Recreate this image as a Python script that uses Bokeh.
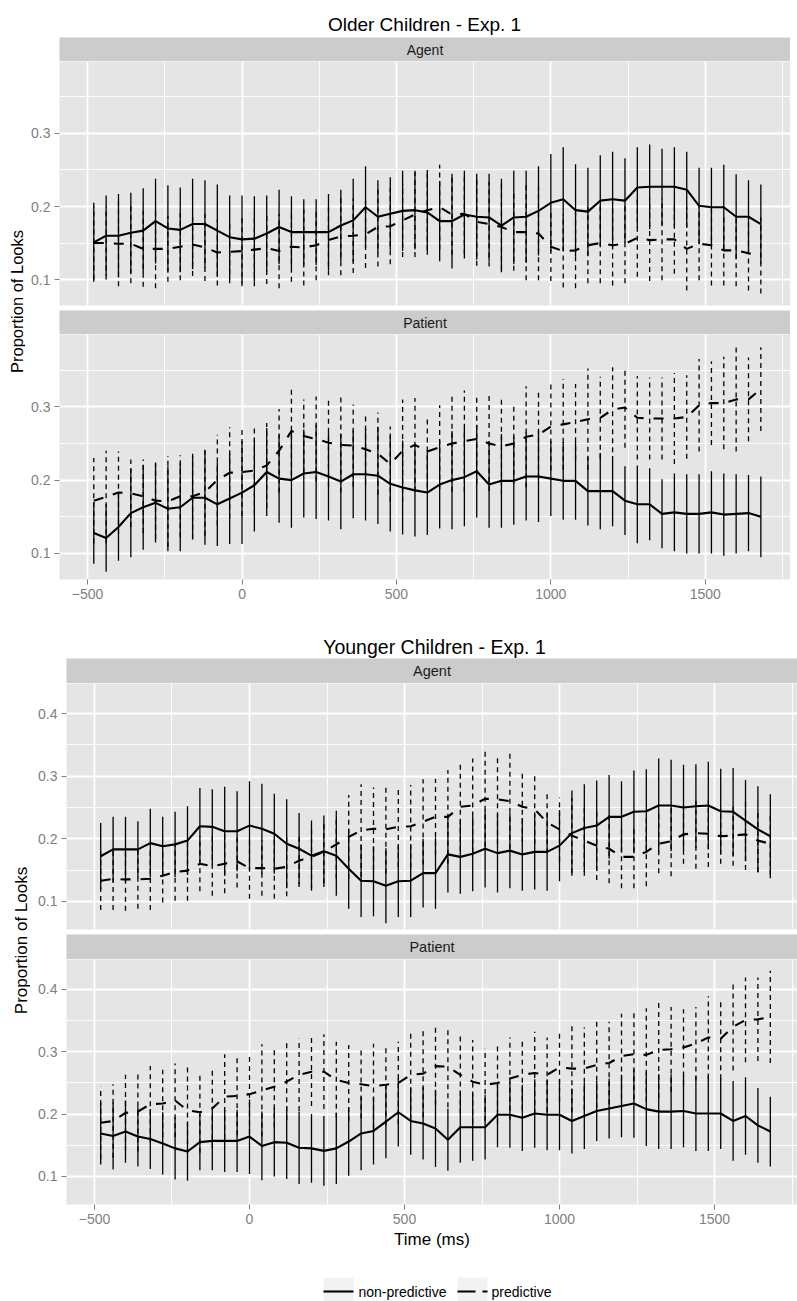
import numpy as np
from bokeh.plotting import figure
from bokeh.layouts import column, row
from bokeh.models import Range1d, FixedTicker
from bokeh.core.properties import value
from bokeh.embed import file_html
from bokeh.resources import INLINE

FONT = "Liberation Sans"

# ---------------- data ----------------
times = [-480, -440, -400, -360, -320, -280, -240, -200, -160, -120, -80, -40, 0, 40, 80,
         120, 160, 200, 240, 280, 320, 360, 400, 440, 480, 520, 560, 600, 640, 680, 720,
         760, 800, 840, 880, 920, 960, 1000, 1040, 1080, 1120, 1160, 1200, 1240, 1280,
         1320, 1360, 1400, 1440, 1480, 1520, 1560, 1600, 1640, 1680]

older_agent_nonpred = [0.151, 0.160, 0.160, 0.164, 0.167, 0.180, 0.170, 0.168, 0.176, 0.176,
                       0.167, 0.158, 0.155, 0.156, 0.163, 0.172, 0.165, 0.165, 0.165, 0.165,
                       0.174, 0.181, 0.199, 0.186, 0.190, 0.194, 0.195, 0.192, 0.180, 0.180,
                       0.189, 0.186, 0.185, 0.174, 0.185, 0.186, 0.194, 0.205, 0.210, 0.195,
                       0.193, 0.208, 0.210, 0.208, 0.226, 0.227, 0.227, 0.227, 0.223, 0.201,
                       0.199, 0.199, 0.186, 0.186, 0.176]
older_agent_nonpred_err = [0.054, 0.055, 0.057, 0.055, 0.058, 0.058, 0.059, 0.058, 0.062, 0.060,
                           0.063, 0.057, 0.060, 0.058, 0.052, 0.051, 0.049, 0.045, 0.045, 0.052,
                           0.049, 0.057, 0.056, 0.050, 0.050, 0.055, 0.054, 0.058, 0.055, 0.065,
                           0.060, 0.059, 0.060, 0.064, 0.064, 0.063, 0.061, 0.067, 0.071, 0.063,
                           0.060, 0.062, 0.065, 0.058, 0.055, 0.058, 0.052, 0.054, 0.052, 0.052,
                           0.054, 0.058, 0.058, 0.050, 0.054]
older_agent_pred = [0.150, 0.150, 0.149, 0.149, 0.142, 0.142, 0.142, 0.145, 0.148, 0.144,
                    0.137, 0.138, 0.139, 0.141, 0.143, 0.139, 0.145, 0.144, 0.147, 0.154,
                    0.159, 0.160, 0.162, 0.172, 0.173, 0.181, 0.189, 0.195, 0.199, 0.189,
                    0.190, 0.179, 0.176, 0.172, 0.165, 0.165, 0.163, 0.145, 0.139, 0.140,
                    0.147, 0.150, 0.147, 0.149, 0.157, 0.154, 0.155, 0.155, 0.142, 0.149,
                    0.147, 0.140, 0.140, 0.136, 0.133]
older_agent_pred_err = [0.050, 0.050, 0.058, 0.054, 0.052, 0.054, 0.045, 0.046, 0.043, 0.046,
                        0.045, 0.043, 0.048, 0.050, 0.049, 0.051, 0.048, 0.052, 0.048, 0.048,
                        0.053, 0.051, 0.046, 0.054, 0.052, 0.050, 0.058, 0.055, 0.058, 0.055,
                        0.055, 0.060, 0.058, 0.059, 0.053, 0.066, 0.064, 0.047, 0.050, 0.052,
                        0.052, 0.055, 0.055, 0.054, 0.053, 0.056, 0.056, 0.047, 0.057, 0.050,
                        0.055, 0.048, 0.049, 0.051, 0.052]

older_patient_nonpred = [0.128, 0.121, 0.136, 0.155, 0.163, 0.169, 0.161, 0.163, 0.176, 0.176,
                         0.167, 0.175, 0.183, 0.193, 0.211, 0.202, 0.200, 0.209, 0.211, 0.205,
                         0.198, 0.208, 0.208, 0.206, 0.195, 0.190, 0.186, 0.183, 0.194, 0.200,
                         0.204, 0.212, 0.194, 0.199, 0.199, 0.205, 0.205, 0.202, 0.199, 0.199,
                         0.185, 0.185, 0.185, 0.172, 0.167, 0.167, 0.154, 0.156, 0.154, 0.154,
                         0.156, 0.153, 0.154, 0.155, 0.150]
older_patient_nonpred_err = [0.042, 0.046, 0.046, 0.060, 0.058, 0.054, 0.058, 0.060, 0.057, 0.064,
                             0.057, 0.062, 0.070, 0.063, 0.060, 0.060, 0.065, 0.060, 0.064, 0.060,
                             0.065, 0.060, 0.063, 0.066, 0.065, 0.064, 0.063, 0.058, 0.060, 0.067,
                             0.067, 0.063, 0.059, 0.064, 0.060, 0.060, 0.062, 0.051, 0.053, 0.053,
                             0.047, 0.052, 0.048, 0.047, 0.053, 0.049, 0.047, 0.053, 0.054, 0.054,
                             0.056, 0.056, 0.054, 0.052, 0.055]
older_patient_pred = [0.172, 0.177, 0.183, 0.182, 0.178, 0.172, 0.171, 0.178, 0.178, 0.184,
                      0.200, 0.210, 0.211, 0.213, 0.220, 0.240, 0.267, 0.260, 0.256, 0.251,
                      0.248, 0.247, 0.242, 0.236, 0.222, 0.240, 0.248, 0.239, 0.245, 0.250,
                      0.253, 0.256, 0.250, 0.246, 0.250, 0.259, 0.262, 0.273, 0.276, 0.279,
                      0.283, 0.285, 0.296, 0.299, 0.285, 0.284, 0.284, 0.284, 0.286, 0.302,
                      0.305, 0.305, 0.310, 0.310, 0.324]
older_patient_pred_err = [0.058, 0.063, 0.056, 0.046, 0.050, 0.052, 0.062, 0.056, 0.058, 0.060,
                          0.062, 0.062, 0.060, 0.060, 0.058, 0.057, 0.061, 0.050, 0.058, 0.060,
                          0.065, 0.056, 0.048, 0.056, 0.051, 0.070, 0.064, 0.049, 0.057, 0.066,
                          0.069, 0.061, 0.065, 0.066, 0.055, 0.069, 0.060, 0.060, 0.062, 0.052,
                          0.069, 0.056, 0.058, 0.055, 0.057, 0.056, 0.056, 0.062, 0.057, 0.063,
                          0.057, 0.063, 0.071, 0.057, 0.057]

younger_agent_nonpred = [0.172, 0.183, 0.183, 0.183, 0.193, 0.188, 0.191, 0.197, 0.220, 0.219,
                         0.212, 0.212, 0.221, 0.216, 0.208, 0.192, 0.184, 0.173, 0.180, 0.173,
                         0.152, 0.133, 0.132, 0.125, 0.132, 0.133, 0.145, 0.145, 0.175, 0.171,
                         0.176, 0.184, 0.177, 0.181, 0.175, 0.179, 0.179, 0.189, 0.209, 0.217,
                         0.221, 0.235, 0.235, 0.243, 0.244, 0.253, 0.253, 0.250, 0.252, 0.253,
                         0.244, 0.243, 0.229, 0.215, 0.204]
younger_agent_nonpred_err = [0.053, 0.052, 0.052, 0.045, 0.055, 0.047, 0.052, 0.055, 0.061, 0.060,
                             0.071, 0.064, 0.071, 0.072, 0.064, 0.071, 0.057, 0.056, 0.057, 0.064,
                             0.064, 0.058, 0.056, 0.060, 0.057, 0.058, 0.055, 0.057, 0.061, 0.059,
                             0.060, 0.062, 0.063, 0.060, 0.058, 0.060, 0.062, 0.057, 0.068, 0.070,
                             0.072, 0.067, 0.057, 0.066, 0.067, 0.075, 0.073, 0.068, 0.067, 0.070,
                             0.068, 0.070, 0.065, 0.069, 0.067]
younger_agent_pred = [0.133, 0.136, 0.135, 0.135, 0.136, 0.141, 0.147, 0.149, 0.160, 0.156,
                      0.160, 0.164, 0.153, 0.153, 0.152, 0.155, 0.165, 0.171, 0.179, 0.191,
                      0.203, 0.213, 0.216, 0.215, 0.219, 0.220, 0.227, 0.235, 0.235, 0.251,
                      0.253, 0.264, 0.263, 0.260, 0.251, 0.247, 0.226, 0.215, 0.205, 0.197,
                      0.189, 0.184, 0.171, 0.171, 0.179, 0.192, 0.196, 0.207, 0.209, 0.208,
                      0.204, 0.205, 0.207, 0.197, 0.192]
younger_agent_pred_err = [0.047, 0.050, 0.050, 0.047, 0.050, 0.043, 0.046, 0.048, 0.044, 0.047,
                          0.047, 0.042, 0.049, 0.044, 0.048, 0.047, 0.042, 0.050, 0.050, 0.055,
                          0.067, 0.074, 0.066, 0.071, 0.064, 0.066, 0.068, 0.061, 0.075, 0.070,
                          0.075, 0.077, 0.072, 0.076, 0.056, 0.056, 0.049, 0.051, 0.060, 0.056,
                          0.055, 0.055, 0.050, 0.050, 0.055, 0.047, 0.056, 0.047, 0.057, 0.053,
                          0.044, 0.048, 0.057, 0.050, 0.050]

younger_patient_nonpred = [0.169, 0.165, 0.172, 0.164, 0.160, 0.153, 0.145, 0.140, 0.155, 0.157,
                           0.157, 0.157, 0.164, 0.149, 0.155, 0.154, 0.146, 0.145, 0.141, 0.145,
                           0.156, 0.169, 0.173, 0.188, 0.203, 0.189, 0.185, 0.177, 0.159, 0.179,
                           0.179, 0.179, 0.199, 0.199, 0.194, 0.201, 0.199, 0.199, 0.189, 0.197,
                           0.205, 0.209, 0.213, 0.217, 0.208, 0.204, 0.204, 0.205, 0.201, 0.201,
                           0.201, 0.189, 0.197, 0.182, 0.172]
younger_patient_nonpred_err = [0.050, 0.054, 0.050, 0.048, 0.048, 0.050, 0.050, 0.047, 0.045, 0.047,
                               0.050, 0.050, 0.060, 0.055, 0.055, 0.058, 0.058, 0.055, 0.056, 0.057,
                               0.055, 0.059, 0.054, 0.059, 0.055, 0.054, 0.058, 0.062, 0.050, 0.057,
                               0.054, 0.052, 0.052, 0.053, 0.053, 0.055, 0.057, 0.057, 0.052, 0.053,
                               0.048, 0.048, 0.050, 0.055, 0.059, 0.060, 0.060, 0.058, 0.060, 0.060,
                               0.057, 0.064, 0.062, 0.060, 0.056]
younger_patient_pred = [0.186, 0.189, 0.202, 0.204, 0.216, 0.217, 0.222, 0.206, 0.203, 0.209,
                        0.228, 0.229, 0.232, 0.238, 0.244, 0.252, 0.263, 0.268, 0.268, 0.255,
                        0.250, 0.248, 0.245, 0.247, 0.250, 0.263, 0.265, 0.277, 0.276, 0.263,
                        0.252, 0.247, 0.250, 0.257, 0.263, 0.266, 0.263, 0.275, 0.273, 0.273,
                        0.279, 0.282, 0.293, 0.296, 0.295, 0.303, 0.304, 0.307, 0.313, 0.323,
                        0.321, 0.340, 0.351, 0.352, 0.356]
younger_patient_pred_err = [0.058, 0.059, 0.061, 0.064, 0.061, 0.054, 0.059, 0.069, 0.065, 0.063,
                            0.068, 0.063, 0.064, 0.074, 0.065, 0.062, 0.058, 0.055, 0.060, 0.061,
                            0.061, 0.055, 0.068, 0.065, 0.066, 0.072, 0.070, 0.062, 0.065, 0.062,
                            0.067, 0.058, 0.065, 0.066, 0.056, 0.066, 0.060, 0.055, 0.070, 0.066,
                            0.069, 0.066, 0.068, 0.072, 0.075, 0.077, 0.068, 0.061, 0.059, 0.066,
                            0.065, 0.070, 0.068, 0.067, 0.074]

x_ticks = [-500, 0, 500, 1000, 1500]
x_minor = [-250, 250, 750, 1250, 1750]
y_ticks_older = [0.1, 0.2, 0.3]
y_ticks_younger = [0.1, 0.2, 0.3, 0.4]
y_minor = [0.15, 0.25, 0.35]
legend_labels = ["non-predictive", "predictive"]

# ---------------- helpers ----------------
GREY_TXT = "#7F7F7F"
TICK_SIZE = "14px"


def helper_fig(w, h, fill=None):
    p = figure(width=w, height=h, x_range=Range1d(0, w), y_range=Range1d(0, h),
               x_axis_location=None, y_axis_location=None,
               output_backend="svg", toolbar_location=None, min_border=0,
               outline_line_color=None, background_fill_color=fill,
               border_fill_color="white")
    p.grid.visible = False
    if fill is None:
        p.background_fill_alpha = 0
    return p


def strip_fig(w, h, left, label, size):
    p = figure(width=w, height=h, x_range=Range1d(0, 1), y_range=Range1d(0, 1),
               x_axis_location=None, y_axis_location=None,
               output_backend="svg", toolbar_location=None,
               min_border_left=left, min_border_right=0, min_border_top=0, min_border_bottom=0,
               outline_line_color=None, background_fill_color="#CCCCCC",
               border_fill_color="white")
    p.grid.visible = False
    p.text(x=[0.5], y=[0.5], text=[label], text_align="center", text_baseline="middle",
           text_font=value(FONT), text_font_size=size, text_color="#1A1A1A")
    return p


def panel_fig(w, h, left, bottom, xr, yr, yticks, show_x, xlabel=None):
    p = figure(width=w, height=h, x_range=Range1d(*xr), y_range=Range1d(*yr),
               x_axis_location="below" if show_x else None, y_axis_location="left",
               output_backend="svg", toolbar_location=None,
               min_border_left=left, min_border_right=0, min_border_top=0,
               min_border_bottom=bottom,
               outline_line_color=None, background_fill_color="#E5E5E5",
               border_fill_color="white")
    xt = FixedTicker(ticks=x_ticks, minor_ticks=x_minor)
    yt = FixedTicker(ticks=yticks, minor_ticks=y_minor)
    p.xgrid.ticker = xt
    p.ygrid.ticker = yt
    for g in (p.xgrid[0], p.ygrid[0]):
        g.grid_line_color = "white"
        g.grid_line_width = 1.8
        g.minor_grid_line_color = "white"
        g.minor_grid_line_width = 0.9
    axes = [p.yaxis[0]] + ([p.xaxis[0]] if show_x else [])
    p.yaxis[0].ticker = yt
    if show_x:
        p.xaxis[0].ticker = xt
    for ax in axes:
        ax.axis_line_color = None
        ax.major_tick_line_color = GREY_TXT
        ax.major_tick_out = 5
        ax.major_tick_in = 0
        ax.minor_tick_line_color = None
        ax.major_label_text_color = GREY_TXT
        ax.major_label_text_font = FONT
        ax.major_label_text_font_size = TICK_SIZE
        ax.major_label_standoff = 4
    if show_x and xlabel:
        ax = p.xaxis[0]
        ax.axis_label = xlabel
        ax.axis_label_text_font = FONT
        ax.axis_label_text_font_style = "normal"
        ax.axis_label_text_font_size = "17px"
        ax.axis_label_text_color = "black"
        ax.axis_label_standoff = 3
    return p


def draw_series(p, nonpred, nonpred_err, pred, pred_err):
    t = np.array(times, dtype=float)
    series = [(np.array(pred), np.array(pred_err), "5 4", "10 10"),
              (np.array(nonpred), np.array(nonpred_err), "solid", "solid")]
    for m, e, bar_dash, _ in series:
        p.segment(x0=t, y0=m - e, x1=t, y1=m + e, line_color="black",
                  line_width=1.3, line_dash=bar_dash)
    for m, e, _, line_dash in series:
        p.line(t, m, line_color="black", line_width=2.1, line_dash=line_dash,
               line_join="round")


W_TOTAL = 797

# ---------------- top block: Older children ----------------
TOP_LAB_W = 25
TOP_LEFT = 34
top_w = 790 - TOP_LAB_W
top_xr = (-591.0, 1776.0)
top_yr = (0.0645, 0.3985)

title_top = helper_fig(W_TOTAL, 37)
title_top.text(x=[424], y=[13], text=["Older Children - Exp. 1"], text_align="center",
               text_baseline="middle", text_font=value(FONT), text_font_size="19px",
               text_color="black")

s_oa = strip_fig(top_w, 24, TOP_LEFT, "Agent", "14px")
p_oa = panel_fig(top_w, 249, TOP_LEFT, 5, top_xr, top_yr, y_ticks_older, False)
draw_series(p_oa, older_agent_nonpred, older_agent_nonpred_err,
            older_agent_pred, older_agent_pred_err)
s_op = strip_fig(top_w, 24, TOP_LEFT, "Patient", "14px")
p_op = panel_fig(top_w, 298, TOP_LEFT, 53, top_xr, top_yr, y_ticks_older, True)
draw_series(p_op, older_patient_nonpred, older_patient_nonpred_err,
            older_patient_pred, older_patient_pred_err)

top_h = 24 + 249 + 24 + 298
ylab_top = helper_fig(TOP_LAB_W, top_h)
ylab_top.text(x=[16], y=[top_h - 264], text=["Proportion of Looks"], angle=np.pi / 2,
              text_align="center", text_baseline="middle", text_font=value(FONT),
              text_font_size="16.5px", text_color="black")

top_block = row(ylab_top, column(s_oa, p_oa, s_op, p_op, spacing=0), spacing=0)

# ---------------- bottom block: Younger children ----------------
BOT_LAB_W = 30
BOT_LEFT = 36
bot_w = W_TOTAL - BOT_LAB_W
bot_xr = (-590.3, 1767.7)
bot_yr = (0.055, 0.448)

title_bot = helper_fig(W_TOTAL, 26)
title_bot.text(x=[434], y=[11.8], text=["Younger Children - Exp. 1"], text_align="center",
               text_baseline="middle", text_font=value(FONT), text_font_size="19.5px",
               text_color="black")

s_ya = strip_fig(bot_w, 25, BOT_LEFT, "Agent", "14.5px")
p_ya = panel_fig(bot_w, 251, BOT_LEFT, 5, bot_xr, bot_yr, y_ticks_younger, False)
draw_series(p_ya, younger_agent_nonpred, younger_agent_nonpred_err,
            younger_agent_pred, younger_agent_pred_err)
s_yp = strip_fig(bot_w, 25, BOT_LEFT, "Patient", "14.5px")
p_yp = panel_fig(bot_w, 303, BOT_LEFT, 58, bot_xr, bot_yr, y_ticks_younger, True,
                 xlabel="Time (ms)")
draw_series(p_yp, younger_patient_nonpred, younger_patient_nonpred_err,
            younger_patient_pred, younger_patient_pred_err)

bot_h = 25 + 251 + 25 + 303
ylab_bot = helper_fig(BOT_LAB_W, bot_h)
ylab_bot.text(x=[21], y=[bot_h - 282], text=["Proportion of Looks"], angle=np.pi / 2,
              text_align="center", text_baseline="middle", text_font=value(FONT),
              text_font_size="17px", text_color="black")

bot_block = row(ylab_bot, column(s_ya, p_ya, s_yp, p_yp, spacing=0), spacing=0)

# ---------------- legend ----------------
LEG_H = 39
leg = helper_fig(W_TOTAL, LEG_H)
key_left = [323, 457]
key_right = [353, 487]
leg.quad(left=key_left, right=key_right, bottom=[-6, -6], top=[24, 24],
         fill_color="#F2F2F2", line_color=None)
leg.line([key_left[0], key_right[0]], [10, 10], line_color="black", line_width=2.1)
leg.line([key_left[1], key_right[1]], [10, 10], line_color="black", line_width=2.1,
         line_dash="18 7")
leg.text(x=[358, 491], y=[10, 10], text=legend_labels, text_align="left",
         text_baseline="middle", text_font=value(FONT), text_font_size="14px",
         text_color="black")

layout = column(title_top, top_block, title_bot, bot_block, leg, spacing=0)

open("out.html", "w").write(file_html(layout, INLINE))
